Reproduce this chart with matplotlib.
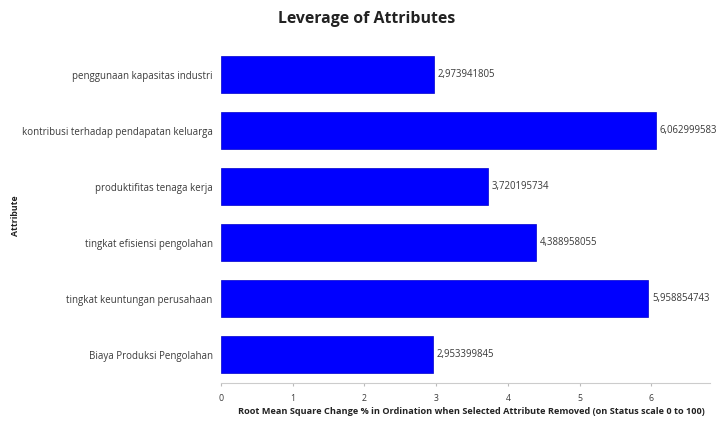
import matplotlib.pyplot as plt

# attributes, top to bottom as shown
attributes = ["penggunaan kapasitas industri",
              "kontribusi terhadap pendapatan keluarga",
              "produktifitas tenaga kerja",
              "tingkat efisiensi pengolahan",
              "tingkat keuntungan perusahaan",
              "Biaya Produksi Pengolahan"]
values = [2.973941805, 6.062999583, 3.720195734, 4.388958055, 5.958854743, 2.953399845]
value_labels = ["2,973941805", "6,062999583", "3,720195734",
                "4,388958055", "5,958854743", "2,953399845"]
xticks = [0, 1, 2, 3, 4, 5, 6]

plt.rcParams['font.family'] = ['Open Sans', 'DejaVu Sans']

fig = plt.figure(figsize=(7.21, 4.23), dpi=100)
ax = fig.add_axes([0.3065, 0.0946, 0.6785, 0.7944])

pos = list(range(len(attributes)))[::-1]
ax.barh(pos, values, height=0.66, color='#0000FF', edgecolor='#0000CC', linewidth=0.5)
for p, v, lab in zip(pos, values, value_labels):
    ax.text(v + 0.05, p, lab, va='center', ha='left', fontsize=6.9, color='#3a3a3a',
            clip_on=False)

ax.set_yticks(pos)
ax.set_yticklabels(attributes, fontsize=7, color='#3a3a3a')
ax.set_xticks(xticks)
ax.set_xticklabels([str(t) for t in xticks], fontsize=6.3, color='#3a3a3a')
ax.set_xlim(0, 6.82)
ax.set_ylim(-0.5, len(attributes) - 0.5)

ax.tick_params(axis='y', length=0, pad=6)
ax.tick_params(axis='x', length=2, color='#BBBBBB', pad=6)
for s in ['top', 'right', 'left']:
    ax.spines[s].set_visible(False)
ax.spines['bottom'].set_color('#CCCCCC')
ax.spines['bottom'].set_linewidth(0.8)

ax.set_xlabel("Root Mean Square Change % in Ordination when Selected Attribute Removed (on Status scale 0 to 100)",
              fontsize=6.6, fontweight='bold', color='#222222')
ax.xaxis.set_label_coords(0.512, -0.072)
fig.text(0.022, 0.49, "Attribute", rotation=90, fontsize=6.3, fontweight='bold',
         color='#222222', ha='center', va='center')
fig.text(0.508, 0.955, "Leverage of Attributes", fontsize=11.4, fontweight='bold',
         color='#222222', ha='center', va='center')

fig.savefig("out.png", dpi=100)
